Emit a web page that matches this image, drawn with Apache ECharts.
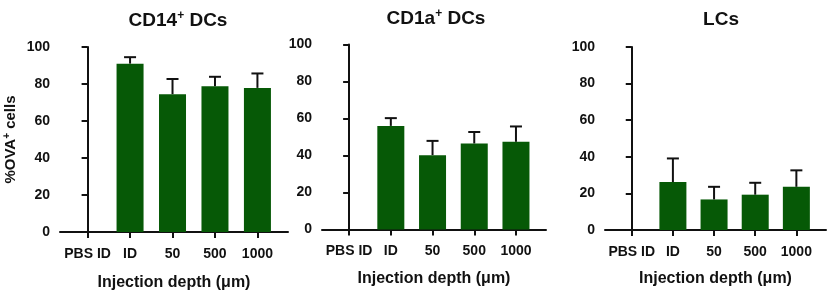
<!DOCTYPE html>
<html>
<head>
<meta charset="utf-8">
<script src="https://cdn.jsdelivr.net/npm/echarts@6/dist/echarts.min.js"></script>
<style>
  html, body { margin: 0; padding: 0; background: #fff; }
  #chart { width: 829px; height: 296px; }
</style>
</head>
<body>
<div id="chart"></div>
<script>
// categories shared by all three panels
const categories = ['PBS ID', 'ID', '50', '500', '1000']
const yTicks = [0, 20, 40, 60, 80, 100]

// mean and upper error (SD) for each panel
const cd14Mean = [0, 91, 74.5, 78.8, 77.9]
const cd14Err = [0, 3.5, 8.2, 5.1, 7.8]
const cd1aMean = [0, 56, 40.2, 46.5, 47.4]
const cd1aErr = [0, 4.2, 7.7, 6.2, 8.3]
const lcsMean = [0, 26.2, 16.7, 19.3, 23.6]
const lcsErr = [0, 12.9, 6.9, 6.5, 9.0]

const panels = [
  { title: '{t|CD14}{s|+}{t| DCs}', mean: cd14Mean, err: cd14Err },
  { title: '{t|CD1a}{s|+}{t| DCs}', mean: cd1aMean, err: cd1aErr },
  { title: '{t|LCs}', mean: lcsMean, err: lcsErr },
]

const grids = [
  { left: 60, top: 47, width: 228, height: 188.5 },
  { left: 322, top: 44.5, width: 224, height: 185 },
  { left: 605, top: 47, width: 221, height: 183 },
]
const titleCenters = [[173, 5], [431, 3], [716, 5]]

const FONT = 'Liberation Sans, Arial, sans-serif'
const INK = '#111'
const GREEN = '#065906'

const titleRich = {
  t: { fontFamily: FONT, fontWeight: 'bold', fontSize: 19, color: INK },
  s: { fontFamily: FONT, fontWeight: 'bold', fontSize: 12, color: INK, verticalAlign: 'top', padding: [0, 0, 10, 0] },
}

const option = {
  animation: false,
  backgroundColor: '#fff',
  title: panels.map((p, i) => ({
    text: p.title,
    left: titleCenters[i][0],
    top: titleCenters[i][1],
    textAlign: 'center',
    textStyle: { rich: titleRich },
  })),
  grid: grids,
  xAxis: grids.map((g, i) => ({
    type: 'value',
    gridIndex: i,
    min: -0.65,
    max: 4.72,
    splitLine: { show: false },
    axisLine: { show: true, lineStyle: { color: INK, width: 2 } },
    axisTick: { show: true, customValues: [0, 1, 2, 3, 4], length: 6, lineStyle: { color: INK, width: 2 } },
    axisLabel: {
      customValues: [0, 1, 2, 3, 4],
      formatter: v => categories[v],
      margin: 15,
      fontFamily: FONT, fontWeight: 'bold', fontSize: 14, color: INK,
    },
    name: 'Injection depth (μm)',
    nameLocation: 'middle',
    nameGap: i === 0 ? 43 : 41,
    nameTextStyle: { fontFamily: FONT, fontWeight: 'bold', fontSize: 16, color: INK },
  })),
  yAxis: grids.map((g, i) => ({
    type: 'value',
    gridIndex: i,
    min: 0,
    max: 100,
    interval: 20,
    splitLine: { show: false },
    axisLine: { show: true, lineStyle: { color: INK, width: 2 } },
    axisTick: { show: true, length: 6, lineStyle: { color: INK, width: 2 } },
    axisLabel: { margin: 10, fontFamily: FONT, fontWeight: 'bold', fontSize: 14, color: INK },
    name: i === 0 ? '{t|%OVA}{s|+}{t| cells}' : '',
    nameLocation: 'middle',
    nameGap: 40,
    nameTextStyle: {
      rich: {
        t: { fontFamily: FONT, fontWeight: 'bold', fontSize: 15, color: INK },
        s: { fontFamily: FONT, fontWeight: 'bold', fontSize: 10, color: INK, verticalAlign: 'top', padding: [0, 0, 8, 0] },
      },
    },
  })),
  series: [],
}

panels.forEach((p, i) => {
  option.series.push({
    type: 'bar',
    xAxisIndex: i,
    yAxisIndex: i,
    barWidth: 27,
    itemStyle: { color: GREEN },
    data: p.mean.map((v, k) => [k, v]),
  })
  option.series.push({
    type: 'custom',
    xAxisIndex: i,
    yAxisIndex: i,
    data: p.mean.map((v, k) => [k, v, v + p.err[k]]),
    encode: { x: 0, y: [1, 2] },
    z: 5,
    renderItem(params, api) {
      const x = api.value(0)
      const lo = api.value(1)
      const hi = api.value(2)
      if (!(hi > lo)) return
      const a = api.coord([x, lo])
      const b = api.coord([x, hi])
      const style = { stroke: INK, lineWidth: 2 }
      return {
        type: 'group',
        children: [
          { type: 'line', shape: { x1: a[0], y1: a[1], x2: b[0], y2: b[1] }, style },
          { type: 'line', shape: { x1: b[0] - 6, y1: b[1], x2: b[0] + 6, y2: b[1] }, style },
        ],
      }
    },
  })
})

const chart = echarts.init(document.getElementById('chart'))
chart.setOption(option)
</script>
</body>
</html>
